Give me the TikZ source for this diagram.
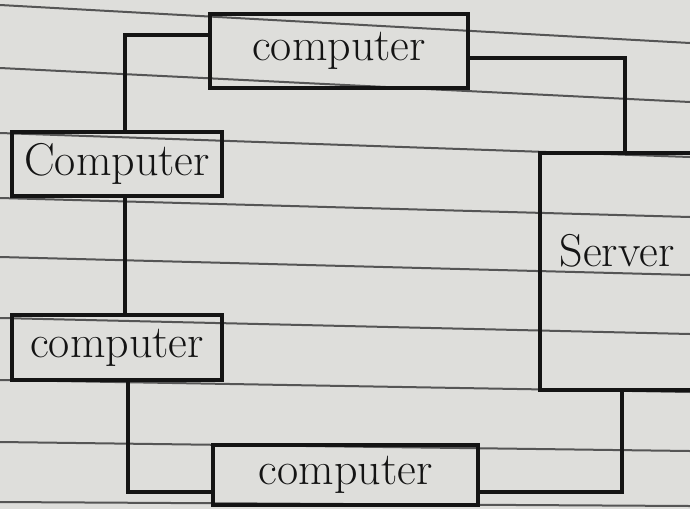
\documentclass[tikz,border=0pt]{standalone}
\usepackage{xcolor}
\usepackage{tikz}
\definecolor{paper}{RGB}{222,222,219}
\definecolor{ink}{RGB}{20,20,20}
\definecolor{rulegray}{RGB}{85,85,85}

\begin{document}
\begin{tikzpicture}[x=0.5pt, y=-0.5pt, thick]
        % Define styles
        \tikzstyle{pcbox} = [rectangle, draw=ink, line width=1.8pt, text=ink, font=\fontsize{23}{27}\selectfont, inner sep=0pt]
        \tikzstyle{link} = [draw=ink, line width=1.6pt]
        \tikzstyle{ruled} = [draw=rulegray, line width=1pt]

        % Paper
        \clip (0,0) rectangle (690,509);
        \fill[paper] (0,0) rectangle (690,509);
        \foreach \ya/\yb in {5/43, 68/102, 133/157, 198/217, 257/275, 318/334, 380/392, 442/451, 502/506}
            \draw[ruled] (0,\ya) -- (690,\yb);

        % Nodes
        \node (topPC) [pcbox, minimum width=129pt, minimum height=37pt] at (339,51) {computer};
        \node (leftPC1) [pcbox, minimum width=105pt, minimum height=32pt] at (117,164) {Computer};
        \node (leftPC2) [pcbox, minimum width=105pt, minimum height=32.5pt] at (117,347.5) {computer};
        \node (bottomPC) [pcbox, minimum width=132.5pt, minimum height=30pt] at (345.5,475) {computer};
        \node (server) [pcbox, minimum width=77pt, minimum height=118.5pt, text depth=21.5pt] at (617,271.5) {Server};

        % Connections
        \draw [link] ([yshift=8pt]topPC.west) -| ([xshift=4pt]leftPC1.north);
        \draw [link] ([yshift=-3.5pt]topPC.east) -| ([xshift=4pt]server.north);
        \draw [link] ([xshift=4pt]leftPC1.south) -- ([xshift=4pt]leftPC2.north);
        \draw [link] ([xshift=5.5pt]leftPC2.south) |- ([yshift=-8.5pt]bottomPC.west);
        \draw [link] ([yshift=-8.5pt]bottomPC.east) -| ([xshift=2.5pt]server.south);

\end{tikzpicture}
\end{document}
